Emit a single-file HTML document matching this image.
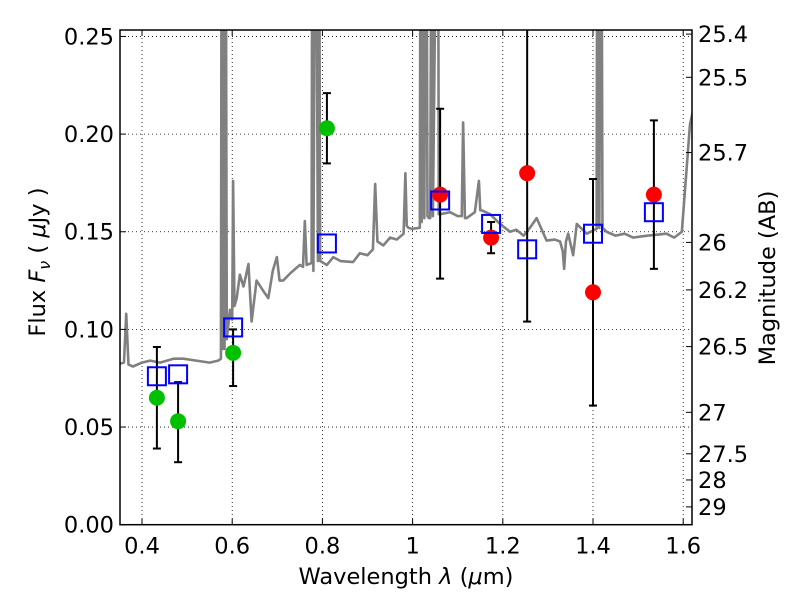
<!DOCTYPE html>
<html><head><meta charset="utf-8"><style>
body{margin:0;background:#fff}
svg text{font-family:"DejaVu Sans","Liberation Sans",sans-serif;fill:#000}
</style></head><body>
<svg id="chart" width="800" height="600" xmlns="http://www.w3.org/2000/svg"></svg>
<script>
const specWl=[0.351,0.360,0.365,0.370,0.380,0.400,0.418,0.440,0.470,0.492,0.520,0.550,0.569,0.575,0.577,0.579,0.581,0.583,0.585,0.588,0.595,0.600,0.602,0.605,0.610,0.617,0.625,0.630,0.636,0.643,0.654,0.668,0.680,0.690,0.699,0.705,0.713,0.730,0.750,0.757,0.761,0.765,0.776,0.778,0.780,0.785,0.790,0.792,0.795,0.810,0.824,0.840,0.868,0.883,0.900,0.912,0.917,0.922,0.935,0.950,0.965,0.980,0.984,0.987,0.991,0.998,1.016,1.018,1.020,1.022,1.026,1.030,1.033,1.036,1.039,1.043,1.045,1.056,1.058,1.061,1.083,1.100,1.109,1.112,1.116,1.120,1.138,1.147,1.150,1.153,1.172,1.185,1.194,1.216,1.230,1.246,1.260,1.275,1.297,1.315,1.327,1.333,1.336,1.340,1.345,1.356,1.364,1.386,1.408,1.410,1.414,1.418,1.421,1.430,1.450,1.470,1.489,1.520,1.563,1.580,1.597,1.615,1.625];
const specF=[0.0825,0.083,0.108,0.082,0.081,0.083,0.084,0.083,0.085,0.085,0.084,0.083,0.084,0.085,0.4,0.09,0.4,0.09,0.4,0.095,0.110,0.105,0.176,0.112,0.116,0.128,0.122,0.127,0.1335,0.104,0.125,0.120,0.116,0.130,0.137,0.125,0.125,0.129,0.133,0.132,0.1555,0.133,0.134,0.4,0.13,0.4,0.135,0.4,0.135,0.133,0.137,0.135,0.1345,0.139,0.138,0.141,0.1745,0.145,0.143,0.147,0.146,0.149,0.180,0.153,0.152,0.1515,0.152,0.4,0.155,0.4,0.157,0.4,0.158,0.157,0.157,0.4,0.158,0.4,0.159,0.159,0.160,0.158,0.158,0.206,0.157,0.157,0.160,0.176,0.161,0.161,0.159,0.156,0.154,0.150,0.151,0.148,0.152,0.157,0.1455,0.146,0.145,0.140,0.131,0.145,0.149,0.138,0.154,0.149,0.1515,0.4,0.152,0.4,0.152,0.150,0.148,0.149,0.147,0.148,0.149,0.147,0.150,0.205,0.215];
const greenWl=[0.433,0.48,0.602,0.81];
const greenF=[0.065,0.053,0.088,0.203];
const greenLo=[0.039,0.032,0.071,0.185];
const greenHi=[0.091,0.073,0.100,0.221];
const redWl=[1.061,1.174,1.254,1.40,1.535];
const redF=[0.169,0.147,0.180,0.119,0.169];
const redLo=[0.126,0.139,0.104,0.061,0.131];
const redHi=[0.213,0.155,0.30,0.177,0.207];
const blueWl=[0.433,0.48,0.602,0.81,1.061,1.174,1.254,1.40,1.535];
const blueF=[0.076,0.077,0.101,0.144,0.166,0.154,0.141,0.149,0.160];
const xTicks=[0.4,0.6,0.8,1.0,1.2,1.4,1.6];
const xTickLabels=["0.4","0.6","0.8","1","1.2","1.4","1.6"];
const yTicks=[0,0.05,0.10,0.15,0.20,0.25];
const yTickLabels=["0.00","0.05","0.10","0.15","0.20","0.25"];
const magTicks=[25.4,25.5,25.7,26,26.2,26.5,27,27.5,28,29];

const L=120,R=692,T=30,B=524.7;
const X0=0.3512,X1=1.6195,Y0=0,Y1=0.2533;
const sx=v=>L+(v-X0)/(X1-X0)*(R-L);
const sy=v=>B-(v-Y0)/(Y1-Y0)*(B-T);
const NS="http://www.w3.org/2000/svg";
const svg=document.getElementById('chart');
function mk(t,a,p){const e=document.createElementNS(NS,t);for(const k in a)e.setAttribute(k,a[k]);(p||svg).appendChild(e);return e;}

const defs=mk('defs',{});
const cp=mk('clipPath',{id:'clip'},defs);
mk('rect',{x:L,y:T,width:R-L,height:B-T},cp);

const grid=mk('g',{});


xTicks.forEach(v=>{mk('line',{x1:sx(v),x2:sx(v),y1:T,y2:B,stroke:'#000','stroke-width':0.8,'stroke-dasharray':'1,3'},grid);});
yTicks.forEach(v=>{mk('line',{x1:L,x2:R,y1:sy(v),y2:sy(v),stroke:'#000','stroke-width':0.8,'stroke-dasharray':'1,3'},grid);});

const plot=mk('g',{'clip-path':'url(#clip)'});
const spec=mk('polyline',{points:specWl.map((w,i)=>sx(w)+','+sy(specF[i])).join(' '),fill:'none',stroke:'#808080','stroke-width':2.6,'stroke-linejoin':'round'},plot);



function errbar(w,lo,hi,name){
  const g=mk('g',{stroke:'#000','stroke-width':2},plot);
  
  
  const x=sx(w);
  mk('line',{x1:x,x2:x,y1:sy(lo),y2:sy(hi)},g);
  mk('line',{x1:x-4,x2:x+4,y1:sy(lo),y2:sy(lo)},g);
  mk('line',{x1:x-4,x2:x+4,y1:sy(hi),y2:sy(hi)},g);
}
greenWl.forEach((w,i)=>errbar(w,greenLo[i],greenHi[i],'green-errorbar'));
redWl.forEach((w,i)=>errbar(w,redLo[i],redHi[i],'red-errorbar'));
greenWl.forEach((w,i)=>{const c=mk('circle',{cx:sx(w),cy:sy(greenF[i]),r:8,fill:'#00c000'},plot);
  
  });
redWl.forEach((w,i)=>{const c=mk('circle',{cx:sx(w),cy:sy(redF[i]),r:8,fill:'#ff0000'},plot);
  
  });
blueWl.forEach((w,i)=>{const r=mk('rect',{x:sx(w)-9,y:sy(blueF[i])-9,width:18,height:18,fill:'none',stroke:'#0000ff','stroke-width':2},plot);
  
  });

const frame=mk('rect',{x:L,y:T,width:R-L,height:B-T,fill:'none',stroke:'#000','stroke-width':1.5});



const xa=mk('g',{});


xTicks.forEach((v,i)=>{
  mk('line',{x1:sx(v),x2:sx(v),y1:B,y2:B-6,stroke:'#000'},xa);
  mk('line',{x1:sx(v),x2:sx(v),y1:T,y2:T+6,stroke:'#000'},xa);
  const t=mk('text',{x:sx(v),y:B+29,'text-anchor':'middle','font-size':22.5},xa);t.textContent=xTickLabels[i];
});
const ya=mk('g',{});


yTicks.forEach((v,i)=>{
  mk('line',{x1:L,x2:L+6,y1:sy(v),y2:sy(v),stroke:'#000'},ya);
  const t=mk('text',{x:L-6,y:sy(v)+8,'text-anchor':'end','font-size':22.5},ya);t.textContent=yTickLabels[i];
});
const ra=mk('g',{});


magTicks.forEach(m=>{
  const f=Math.pow(10,(23.9-m)/2.5);const y=sy(f);
  mk('line',{x1:R,x2:R-6,y1:y,y2:y,stroke:'#000'},ra);
  const t=mk('text',{x:R+6,y:y+8,'font-size':22.5},ra);t.textContent=String(m);
});
</script>
<svg width="800" height="600" style="position:absolute;left:0;top:0" xmlns="http://www.w3.org/2000/svg">
<text x="406" y="584" text-anchor="middle" font-size="22.5" font-family="DejaVu Sans, sans-serif">Wavelength  <tspan font-style="italic">λ</tspan> (<tspan font-style="italic">μ</tspan>m)</text>
<text transform="translate(45,262) rotate(-90)" text-anchor="middle" font-size="22.5" font-family="DejaVu Sans, sans-serif">Flux  <tspan font-style="italic">F</tspan><tspan font-style="italic" font-size="16" dy="5">ν</tspan><tspan dy="-5">  (  </tspan><tspan font-style="italic">μ</tspan>Jy )</text>
<text transform="translate(775,278) rotate(-90)" text-anchor="middle" font-size="22.5" font-family="DejaVu Sans, sans-serif">Magnitude (AB)</text>
</svg>
</body></html>
